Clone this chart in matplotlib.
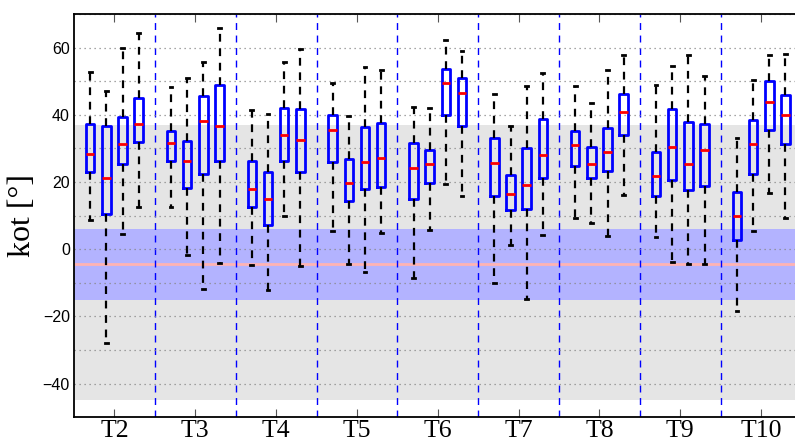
import matplotlib
matplotlib.use("Agg")
import matplotlib.pyplot as plt
from matplotlib.ticker import MultipleLocator

#_________data_________________________________
groups = ["T2", "T3", "T4", "T5", "T6", "T7", "T8", "T9", "T10"]

# four boxes per group: whisker low, Q1, median, Q3, whisker high
whislo = [[8.7, -27.8, 4.6, 12.7], [12.7, -1.8, -11.9, -4.0], [-4.8, -12.2, 9.9, -5.0],
          [5.4, -4.4, -6.9, 4.9], [-8.6, 5.6, 19.5, 15.8], [-10.0, 1.4, -14.8, 4.3],
          [9.4, 7.9, 3.9, 16.0], [3.7, -3.7, -4.4, -4.4], [-18.5, 5.5, 16.6, 9.4]]
q1 = [[22.9, 10.6, 25.3, 32.0], [26.2, 18.2, 22.5, 26.2], [12.5, 7.1, 26.4, 23.0],
      [25.9, 14.3, 17.9, 18.5], [15.1, 19.7, 39.9, 36.8], [15.8, 11.6, 12.0, 21.2],
      [24.9, 21.2, 23.2, 33.9], [15.7, 20.7, 17.5, 18.8], [2.8, 22.3, 35.6, 31.3]]
med = [[28.3, 21.3, 31.2, 37.4], [31.6, 26.2, 38.1, 36.6], [17.8, 14.9, 33.9, 32.5],
       [35.5, 19.8, 25.9, 27.2], [24.1, 25.5, 49.5, 46.4], [25.6, 16.5, 19.0, 28.0],
       [30.9, 25.5, 28.9, 40.8], [21.8, 30.3, 25.5, 29.5], [10.0, 31.4, 43.8, 39.8]]
q3 = [[37.4, 36.6, 39.3, 45.0], [35.2, 32.3, 45.6, 49.0], [26.2, 22.9, 41.9, 41.8],
      [39.8, 26.8, 36.4, 37.5], [31.7, 29.4, 53.5, 51.1], [33.0, 22.2, 30.1, 38.7],
      [35.2, 30.4, 36.1, 46.1], [29.0, 41.6, 37.9, 37.2], [17.1, 38.4, 50.2, 46.0]]
whishi = [[52.6, 47.0, 60.0, 64.3], [48.2, 51.1, 55.8, 65.8], [41.3, 40.1, 55.8, 59.5],
          [49.5, 39.6, 54.3, 53.3], [42.4, 42.0, 62.4, 59.1], [46.1, 36.8, 48.7, 52.3],
          [48.6, 43.4, 53.2, 57.9], [48.8, 54.4, 57.8, 51.5], [33.0, 50.5, 57.9, 58.1]]

gray_band = (-45, 37)
blue_band = (-15, 6)
pink_level = -4.5
offsets = [-0.3, -0.1, 0.1, 0.3]

#_________figure__________
fig = plt.figure(figsize=(7.95, 4.41), dpi=100)
# the original is cropped on the right, so the axes run past the figure edge
ax = fig.add_axes([74 / 795, 23.7 / 441, 727.6 / 795, 403.3 / 441])

ax.axhspan(*gray_band, color="#e5e5e5", lw=0, zorder=0.1)
ax.axhspan(*blue_band, color="#b3b3ff", lw=0, zorder=0.2)
ax.axhline(pink_level, color="#ffb3b3", lw=2, zorder=0.3)

for i in range(len(groups) - 1):
    ax.axvline(i + 1.5, color="blue", lw=1, linestyle=(0, (5, 4)), zorder=0.4)

stats = []
positions = []
for g in range(len(groups)):
    for k in range(4):
        stats.append(dict(whislo=whislo[g][k], q1=q1[g][k], med=med[g][k],
                          q3=q3[g][k], whishi=whishi[g][k], fliers=[]))
        positions.append(g + 1 + offsets[k])

ax.bxp(stats, positions=positions, widths=0.105, capwidths=0.035,
       showfliers=False, manage_ticks=False,
       boxprops=dict(color="blue", lw=2),
       medianprops=dict(color="red", lw=2),
       whiskerprops=dict(color="black", lw=1.6, linestyle=(0, (3.5, 3))),
       capprops=dict(color="black", lw=2))

ax.set_xlim(0.5, len(groups) + 0.5)
ax.set_ylim(-50, 70)
ax.set_xticks(range(1, len(groups) + 1))
ax.set_xticklabels(groups, family="Liberation Serif", fontsize=18.5)
ax.yaxis.set_major_locator(MultipleLocator(20))
ax.yaxis.set_minor_locator(MultipleLocator(10))
ax.tick_params(axis="y", which="both", length=0, pad=3, labelsize=11.5,
               labelfontfamily="Liberation Sans")
ax.tick_params(axis="x", direction="in", length=6, top=True, pad=2, color="#555555")

ax.set_axisbelow(True)
ax.grid(True, axis="y", which="both", color="#888888", linestyle=(0, (1, 3)), lw=0.9)

for s in ax.spines.values():
    s.set_linewidth(1.3)

ax.set_ylabel("kot [°]", family="Liberation Serif", fontsize=23, labelpad=4)

fig.savefig("out.png", dpi=100)
